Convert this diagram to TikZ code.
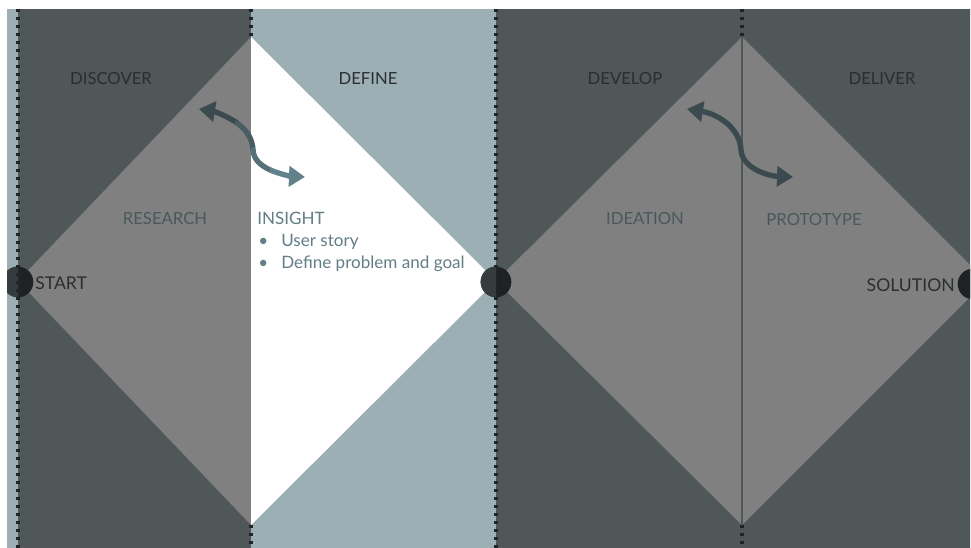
\documentclass[tikz,border=0pt]{standalone}
\usepackage{fontspec}
\setmainfont{Lato}
\usetikzlibrary{arrows.meta}
\definecolor{darkslate}{HTML}{4F5759}
\definecolor{midgray}{HTML}{808080}
\definecolor{lightblue}{HTML}{9CAFB5}
\definecolor{txtdark}{HTML}{2A2E30}
\definecolor{txtslate}{HTML}{4A585C}
\definecolor{txtblue}{HTML}{627E86}
\definecolor{arrdark}{HTML}{3B4A4E}
\definecolor{arrlight}{HTML}{62828B}
\definecolor{dotcol}{HTML}{202426}
\definecolor{circL}{HTML}{353C3E}
\definecolor{circR}{HTML}{1E2224}
\tikzset{
  dotline/.style={draw=dotcol, line width=2.4, dash pattern=on 2.4 off 3.6},
  phase/.style={font=\fontsize{12.5pt}{14pt}\selectfont, text=txtdark, inner sep=0pt},
  endlbl/.style={font=\fontsize{13.2pt}{15pt}\selectfont, text=txtdark, inner sep=0pt},
  sub/.style={font=\fontsize{12.5pt}{14pt}\selectfont, text=txtslate, inner sep=0pt},
  ins/.style={font=\fontsize{12.8pt}{16.5pt}\selectfont, text=txtblue, inner sep=0pt, anchor=base west},
  milestone/.style={circle, fill=circR, minimum size=23pt, inner sep=0pt},
  swing/.style={line width=4},
  tipA/.style={{Triangle[length=12, width=15]}-},
  tipB/.style={-{Triangle[length=12, width=15]}},
  tipAB/.style={{Triangle[length=12, width=15]}-{Triangle[length=12, width=15]}},
}
\begin{document}
\begin{tikzpicture}[x=0.75pt, y=-0.75pt]
\useasboundingbox (0,0) rectangle (971,548);
\fill[white] (0,0) rectangle (971,548);
\begin{scope}
\clip (7,9) rectangle (970,548);
% backgrounds
\fill[lightblue] (7,9) rectangle (18,548);
\fill[darkslate] (18,9) rectangle (251,548);
\fill[lightblue] (251,9) rectangle (496,548);
\fill[darkslate] (496,9) rectangle (971,548);
% diamond 1 left half
\fill[midgray] (18,281) -- (251,37) -- (251,525) -- cycle;
% define triangle
\fill[white] (251,37) -- (496,281) -- (251,525) -- cycle;
% diamond 2
\fill[midgray] (496,281) -- (742,37) -- (986,281) -- (742,525) -- cycle;
\draw[draw=darkslate, line width=1] (742,37) -- (742,525);
% milestones
\node[milestone] (start) at (18,282) {};
\node[milestone] (mid) at (496,282) {};
\node[milestone] (sol) at (973,284) {};
\fill[circL] (start.north) arc[start angle=90, end angle=270, radius=11.5pt] -- cycle;
\fill[circL] (mid.north) arc[start angle=90, end angle=270, radius=11.5pt] -- cycle;
% dotted lines
\draw[dotline] (18,9) -- (18,548);
\draw[dotline] (251,9) -- (251,37);
\draw[dotline] (251,525) -- (251,548);
\draw[dotline] (496,9) -- (496,267);
\draw[dotline] (496,297) -- (496,548);
\draw[dotline] (742,9) -- (742,37);
\draw[dotline] (742,525) -- (742,548);
\end{scope}
% labels
\node[phase] (discover) at (111,79) {DISCOVER};
\node[phase] (define) at (368,79) {DEFINE};
\node[phase] (develop) at (625,79) {DEVELOP};
\node[phase] (deliver) at (882,79) {DELIVER};
\node[sub] (research) at (165,219) {RESEARCH};
\node[sub] (ideation) at (645,219) {IDEATION};
\node[sub] (prototype) at (814,220) {PROTOTYPE};
\node[endlbl, anchor=west] (startlbl) at (35,283) {START};
\node[endlbl, anchor=east] (sollbl) at (955,285) {SOLUTION};
\node[ins] (insight) at (257,225) {INSIGHT};
\node[ins] (bul1) at (258,247) {\textbullet};
\node[ins] (item1) at (281,247) {User story};
\node[ins] (bul2) at (258,269) {\textbullet};
\node[ins] (item2) at (281,269) {Define problem and goal};
% swing arrow 1 (colour shifts from dark to light)
\coordinate (a1) at (199,109);
\coordinate (m1) at (237.25,123.125);
\coordinate (c1) at (253,150);
\coordinate (n1) at (270,169.875);
\coordinate (b1) at (305,177);
\draw[swing, tipA, draw=arrdark, line cap=round] (a1) .. controls (214.5,111.5) and (227.75,116.25) .. (m1);
\draw[swing, draw=arrdark!67!arrlight, line cap=round] (m1) .. controls (246.75,130) and (252.5,139) .. (c1);
\draw[swing, draw=arrdark!33!arrlight, line cap=round] (c1) .. controls (253.5,159) and (260.25,165.5) .. (n1);
\draw[swing, tipB, draw=arrlight] (n1) .. controls (279.75,174.25) and (292.5,176.5) .. (b1);
% swing arrow 2
\coordinate (a2) at (687,109);
\coordinate (b2) at (793,177);
\draw[swing, tipAB, draw=arrdark] (a2) .. controls (718,114) and (740,128) .. (741,150) .. controls (742,168) and (768,176) .. (b2);
\end{tikzpicture}
\end{document}
